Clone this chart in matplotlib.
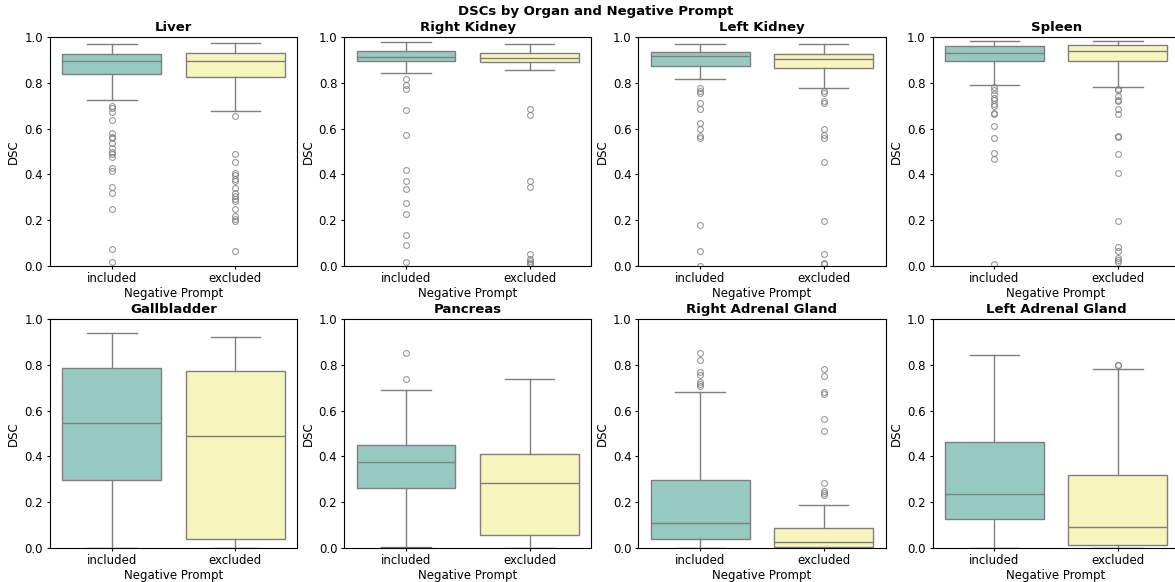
#!/usr/bin/env python3
"""DSC box plots by organ, with and without the negative prompt."""

import matplotlib

matplotlib.use("Agg")
import matplotlib.pyplot as plt
from matplotlib.colors import to_rgb
import colorsys

organs = [
    "Liver", "Right Kidney", "Left Kidney", "Spleen",
    "Gallbladder", "Pancreas", "Right Adrenal Gland", "Left Adrenal Gland",
]
groups = ["included", "excluded"]

# box statistics: [included, excluded] per organ
whisker_low = [
    [0.724, 0.679], [0.844, 0.855], [0.815, 0.779], [0.789, 0.782],
    [0.0, 0.0], [0.004, 0.0], [0.0, 0.0], [0.0, 0.0],
]
q1 = [
    [0.839, 0.824], [0.894, 0.892], [0.875, 0.863], [0.894, 0.894],
    [0.299, 0.038], [0.260, 0.057], [0.041, 0.006], [0.125, 0.012],
]
median = [
    [0.897, 0.897], [0.914, 0.910], [0.917, 0.904], [0.932, 0.939],
    [0.547, 0.491], [0.374, 0.286], [0.110, 0.028], [0.234, 0.090],
]
q3 = [
    [0.927, 0.930], [0.9375, 0.932], [0.936, 0.924], [0.962, 0.965],
    [0.786, 0.772], [0.448, 0.411], [0.298, 0.087], [0.465, 0.320],
]
whisker_high = [
    [0.971, 0.974], [0.977, 0.971], [0.968, 0.969], [0.981, 0.983],
    [0.939, 0.920], [0.692, 0.740], [0.680, 0.189], [0.844, 0.782],
]
outliers = [
    [
        [0.699, 0.690, 0.672, 0.637, 0.583, 0.564, 0.558, 0.538, 0.515, 0.499,
         0.491, 0.474, 0.426, 0.416, 0.343, 0.318, 0.251, 0.076, 0.016],
        [0.657, 0.491, 0.455, 0.407, 0.397, 0.379, 0.371, 0.342, 0.317, 0.304,
         0.291, 0.283, 0.250, 0.219, 0.205, 0.198, 0.067],
    ],
    [
        [0.818, 0.789, 0.772, 0.680, 0.573, 0.419, 0.372, 0.336, 0.275, 0.228,
         0.134, 0.093, 0.017],
        [0.685, 0.660, 0.371, 0.346, 0.052, 0.029, 0.020, 0.015, 0.010],
    ],
    [
        [0.776, 0.765, 0.756, 0.712, 0.685, 0.626, 0.599, 0.567, 0.560, 0.179,
         0.067, 0.001],
        [0.763, 0.754, 0.721, 0.712, 0.599, 0.571, 0.561, 0.455, 0.198, 0.052,
         0.015, 0.007],
    ],
    [
        [0.783, 0.767, 0.753, 0.735, 0.724, 0.709, 0.698, 0.670, 0.666, 0.613,
         0.558, 0.494, 0.467, 0.007],
        [0.773, 0.767, 0.743, 0.724, 0.719, 0.685, 0.663, 0.568, 0.562, 0.490,
         0.407, 0.198, 0.084, 0.064, 0.035, 0.026, 0.017],
    ],
    [[], []],
    [[0.852, 0.740], []],
    [
        [0.852, 0.823, 0.770, 0.757, 0.725, 0.717, 0.706],
        [0.783, 0.753, 0.680, 0.673, 0.564, 0.512, 0.286, 0.251, 0.241, 0.231],
    ],
    [[], [0.801, 0.799]],
]

base_colors = ["#8dd3c7", "#ffffb3"]
line_gray = "#7f7f7f"


def desaturate(color, prop):
    h, l, s = colorsys.rgb_to_hls(*to_rgb(color))
    return colorsys.hls_to_rgb(h, l, s * prop)


box_colors = [desaturate(c, 0.75) for c in base_colors]

fig, axes = plt.subplots(2, 4, figsize=(11.75, 5.82), dpi=100)
fig.subplots_adjust(left=0.0426, right=1.004, top=0.9364, bottom=0.0584,
                    wspace=0.19, hspace=0.231)

for i, (ax, organ) in enumerate(zip(axes.flat, organs)):
    stats = []
    for j, grp in enumerate(groups):
        stats.append({
            "label": grp,
            "whislo": whisker_low[i][j],
            "q1": q1[i][j],
            "med": median[i][j],
            "q3": q3[i][j],
            "whishi": whisker_high[i][j],
            "fliers": outliers[i][j],
        })
    bp = ax.bxp(
        stats, positions=[0, 1], widths=0.8, capwidths=0.4,
        patch_artist=True, showfliers=True,
        boxprops=dict(edgecolor=line_gray, linewidth=1.0),
        medianprops=dict(color=line_gray, linewidth=1.0),
        whiskerprops=dict(color=line_gray, linewidth=1.0),
        capprops=dict(color=line_gray, linewidth=1.0),
        flierprops=dict(marker="o", markerfacecolor="none",
                        markeredgecolor=line_gray, markersize=4.2,
                        markeredgewidth=0.8, alpha=0.8),
    )
    for patch, color in zip(bp["boxes"], box_colors):
        patch.set_facecolor(color)
    ax.set_xlim(-0.5, 1.5)
    ax.set_ylim(0, 1)
    ax.set_xticks([0, 1], groups)
    ax.set_title(organ, fontsize=9.5, fontweight="bold", pad=4)
    ax.set_xlabel("Negative Prompt", fontsize=8.5, labelpad=1.5)
    ax.set_ylabel("DSC", fontsize=8.5, labelpad=3)
    ax.tick_params(labelsize=8.5, length=2.5)
    ax.tick_params(axis="x", pad=1.5)
    ax.tick_params(axis="y", pad=2.5)

fig.suptitle("DSCs by Organ and Negative Prompt", x=0.507, y=0.992,
             fontsize=9.5, fontweight="bold")
fig.savefig("out.png", dpi=100)
